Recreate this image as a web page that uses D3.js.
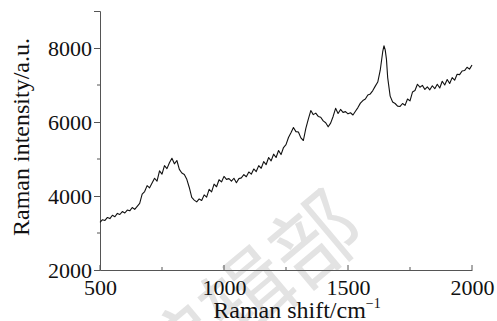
<!DOCTYPE html>
<html>
<head>
<meta charset="utf-8">
<script src="https://cdn.jsdelivr.net/npm/d3@7"></script>
<style>
  body { margin: 0; background: #fff; }
</style>
</head>
<body>
<div id="chart"></div>
<script>
// Raman shift (cm^-1) and measured intensity (a.u.)
const shifts = [
  500, 510, 520, 530, 540, 550, 560, 570, 580, 590,
  600, 610, 620, 630, 640, 650, 660, 670, 680, 690,
  700, 710, 720, 730, 740, 750, 760, 770, 780, 790,
  800, 810, 820, 830, 840, 850, 860, 870, 880, 890,
  900, 910, 920, 930, 940, 950, 960, 970, 980, 990,
  1000, 1010, 1020, 1030, 1040, 1050, 1060, 1070, 1080, 1090,
  1100, 1110, 1120, 1130, 1140, 1150, 1160, 1170, 1180, 1190,
  1200, 1210, 1220, 1230, 1240, 1250, 1260, 1270, 1280, 1290,
  1300, 1310, 1320, 1330, 1340, 1350, 1360, 1370, 1380, 1390,
  1400, 1410, 1420, 1430, 1440, 1450, 1460, 1470, 1480, 1490,
  1500, 1510, 1520, 1530, 1540, 1550, 1560, 1570, 1580, 1590,
  1600, 1610, 1620, 1630, 1640, 1645, 1650, 1655, 1660, 1670,
  1680, 1690, 1700, 1710, 1720, 1730, 1740, 1750, 1760, 1770,
  1780, 1790, 1800, 1810, 1820, 1830, 1840, 1850, 1860, 1870,
  1880, 1890, 1900, 1910, 1920, 1930, 1940, 1950, 1960, 1970,
  1980, 1990, 2000
];
const intensity = [
  3290, 3360, 3340, 3420, 3390, 3480, 3440, 3530, 3500, 3580,
  3540, 3620, 3600, 3690, 3640, 3720, 3800, 4050, 4120, 4280,
  4220, 4350, 4480, 4400, 4680, 4590, 4820, 4740, 4900, 5020,
  4870, 4960, 4720, 4620, 4580, 4450, 4230, 3960, 3890, 3840,
  3920, 3880, 4030, 3970, 4180, 4110, 4320, 4250, 4440, 4380,
  4530, 4450, 4470, 4400, 4480, 4360, 4470, 4490, 4580, 4520,
  4650, 4590, 4730, 4660, 4820, 4750, 4930, 4850, 5040, 4950,
  5130, 5040, 5230, 5120, 5310, 5390, 5580, 5710, 5850, 5740,
  5730, 5570, 5500, 5830, 6080, 6310, 6200, 6240, 6150, 6130,
  6030, 5980, 5870, 5970, 6150, 6370, 6230, 6340, 6260, 6280,
  6220, 6250, 6190, 6290, 6390, 6510, 6580, 6620, 6730, 6760,
  6850, 6970, 7080, 7400, 7900, 8060, 7950, 7700, 7200, 6700,
  6540, 6500, 6430, 6420, 6500, 6450, 6620, 6570, 6810, 6850,
  7020, 6940, 6990, 6880, 6950, 6870, 6980, 6900, 7020, 6920,
  7100, 7000, 7150, 7040, 7200, 7130, 7290, 7280, 7380, 7390,
  7480, 7430, 7540
];
const xTicks = [500, 1000, 1500, 2000];
const xMinor = [750, 1250, 1750];
const yTicks = [2000, 4000, 6000, 8000];
const yMinor = [3000, 5000, 7000];

const W = 497, H = 321;
const margin = { left: 100, right: 25, top: 11, bottom: 51 };
const serif = '"Liberation Serif", "Times New Roman", "DejaVu Serif", serif';

const svg = d3.select('#chart').append('svg')
    .attr('width', W)
    .attr('height', H);

// faint watermark behind the plot
svg.append('text')
    .attr('transform', 'translate(350,212) rotate(-40)')
    .attr('text-anchor', 'end')
    .attr('dy', '0.35em')
    .style('font-family', '"Noto Sans CJK SC", sans-serif')
    .style('font-size', '88px')
    .style('fill', '#e3e3e3')
    .text('编辑部');

const x = d3.scaleLinear()
    .domain([500, 2000])
    .range([margin.left, W - margin.right]);

const y = d3.scaleLinear()
    .domain([2000, 9000])
    .range([H - margin.bottom, margin.top]);

const axisColor = '#555';

// x axis
const gx = svg.append('g')
    .attr('transform', 'translate(0,' + (H - margin.bottom) + ')')
    .call(d3.axisBottom(x).tickValues(xTicks).tickSize(0).tickPadding(9).tickFormat(d3.format('')));
gx.select('.domain').attr('stroke', axisColor);
gx.selectAll('text').style('font-family', serif).style('font-size', '22px').attr('fill', '#111');
gx.selectAll('.minor')
    .data(xMinor)
    .enter().append('line')
    .attr('x1', d => x(d)).attr('x2', d => x(d))
    .attr('y1', 0).attr('y2', -3)
    .attr('stroke', axisColor);
gx.selectAll('.major')
    .data(xTicks)
    .enter().append('line')
    .attr('x1', d => x(d)).attr('x2', d => x(d))
    .attr('y1', 0).attr('y2', -5)
    .attr('stroke', axisColor);

// y axis
const gy = svg.append('g')
    .attr('transform', 'translate(' + margin.left + ',0)')
    .call(d3.axisLeft(y).tickValues(yTicks).tickSize(6).tickPadding(2).tickFormat(d3.format('')));
gy.select('.domain').attr('stroke', axisColor);
gy.selectAll('.tick line').attr('stroke', axisColor);
gy.selectAll('text').style('font-family', serif).style('font-size', '22px').attr('fill', '#111');
gy.selectAll('.minor')
    .data(yMinor)
    .enter().append('line')
    .attr('x1', 0).attr('x2', -3)
    .attr('y1', d => y(d)).attr('y2', d => y(d))
    .attr('stroke', axisColor);

// spectrum
const line = d3.line()
    .x((d, i) => x(shifts[i]))
    .y(d => y(d));

svg.append('path')
    .datum(intensity)
    .attr('d', line)
    .attr('fill', 'none')
    .attr('stroke', '#111')
    .attr('stroke-width', 1.1)
    .attr('stroke-linejoin', 'round');

// axis titles
const xt = svg.append('text')
    .attr('x', 297)
    .attr('y', 318)
    .attr('text-anchor', 'middle')
    .style('font-family', serif)
    .style('font-size', '24px')
    .attr('fill', '#111');
xt.append('tspan').text('Raman shift/cm');
xt.append('tspan').attr('dy', -10).style('font-size', '14px').text('\u22121');

svg.append('text')
    .attr('transform', 'translate(29,137) rotate(-90)')
    .attr('text-anchor', 'middle')
    .style('font-family', serif)
    .style('font-size', '24px')
    .attr('fill', '#111')
    .text('Raman intensity/a.u.');
</script>
</body>
</html>
